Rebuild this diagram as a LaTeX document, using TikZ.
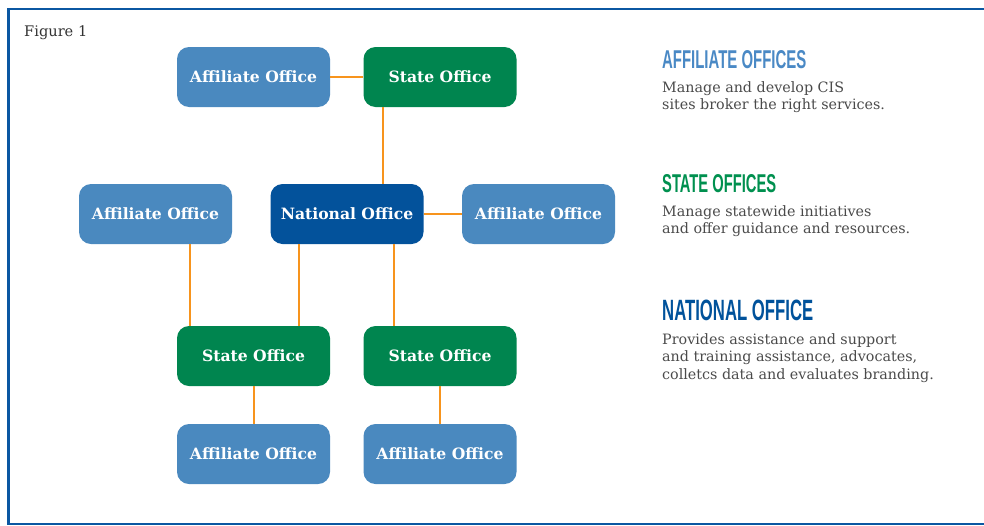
\documentclass[tikz,border=0pt]{standalone}
\usepackage{fontspec}
\setmainfont{DejaVu Serif}
\newfontfamily\headfont[FakeStretch=0.58]{Liberation Sans Bold}
\usepackage{graphicx}
\definecolor{affblue}{HTML}{4A89BF}
\definecolor{stgreen}{HTML}{00854F}
\definecolor{natblue}{HTML}{03529B}
\definecolor{conn}{HTML}{F7941D}
\definecolor{frameblue}{HTML}{0B57A2}
\definecolor{bodygray}{HTML}{4A4A4A}
\definecolor{headaff}{HTML}{4A89C5}
\definecolor{headst}{HTML}{00904F}
\definecolor{headnat}{HTML}{00529B}
\newcommand{\bodylines}[1]{\begin{tabular}[t]{@{}l@{}}#1\end{tabular}}
\tikzset{
  office/.style={rounded corners=12pt, minimum width=153pt, minimum height=60pt,
    inner sep=0pt, text=white, font=\fontsize{15.6}{18}\selectfont\bfseries},
  affbox/.style={office, fill=affblue},
  stbox/.style={office, fill=stgreen},
  natbox/.style={office, fill=natblue},
  link/.style={draw=conn, line width=2pt},
  heading/.style={anchor=base west, inner sep=0pt},
  bodytext/.style={anchor=base west, inner sep=0pt, text=bodygray,
    font=\fontsize{14.3}{17.8}\selectfont}
}
\begin{document}
\begin{tikzpicture}[x=1pt,y=-1pt]
\useasboundingbox (0,0) rectangle (984,525);
% frame
\draw[frameblue, line width=2.6pt] (984,9) -- (8.7,9) -- (8.7,523.8) -- (984,523.8);
\node[anchor=base west, inner sep=0pt, text=black!80, font=\fontsize{14.6}{17}\selectfont] (fig) at (24,36.5) {Figure 1};
% boxes
\node[affbox] (aTop) at (253.5,77) {Affiliate Office};
\node[stbox]  (sTop) at (440,77) {State Office};
\node[affbox] (aML) at (155.5,214) {Affiliate Office};
\node[natbox] (nat) at (347,214) {National Office};
\node[affbox] (aMR) at (538.5,214) {Affiliate Office};
\node[stbox]  (sBL) at (253.5,356) {State Office};
\node[stbox]  (sBR) at (440,356) {State Office};
\node[affbox] (aBL) at (253.5,454) {Affiliate Office};
\node[affbox] (aBR) at (440,454) {Affiliate Office};
% connectors
\draw[link] (aTop.east) -- (sTop.west);
\draw[link] ([xshift=-57pt]sTop.south) -- ([xshift=-57pt]sTop.south |- nat.north);
\draw[link] (nat.east) -- (aMR.west);
\draw[link] ([xshift=34.5pt]aML.south) -- ([xshift=34.5pt]aML.south |- sBL.north);
\draw[link] ([xshift=-48pt]nat.south) -- ([xshift=-48pt]nat.south |- sBL.north);
\draw[link] ([xshift=47pt]nat.south) -- ([xshift=47pt]nat.south |- sBR.north);
\draw[link] ([xshift=0.5pt]sBL.south) -- ([xshift=0.5pt]aBL.north);
\draw[link] (sBR.south) -- (aBR.north);
% legend
\node[heading, text=headaff] (hAff) at (662,68) {\resizebox{144pt}{18pt}{\headfont AFFILIATE OFFICES}};
\node[bodytext] (tAff) at (662,92) {\bodylines{Manage and develop CIS\\sites broker the right services.}};
\node[heading, text=headst] (hSt) at (662,192.5) {\resizebox{114pt}{18pt}{\headfont STATE OFFICES}};
\node[bodytext] (tSt) at (662,216) {\bodylines{Manage statewide initiatives\\and offer guidance and resources.}};
\node[heading, text=headnat] (hNat) at (662,320) {\resizebox{151pt}{20.5pt}{\headfont NATIONAL OFFICE}};
\node[bodytext] (tNat) at (662,344) {\bodylines{Provides assistance and support\\and training assistance, advocates,\\colletcs data and evaluates branding.}};
\end{tikzpicture}
\end{document}
